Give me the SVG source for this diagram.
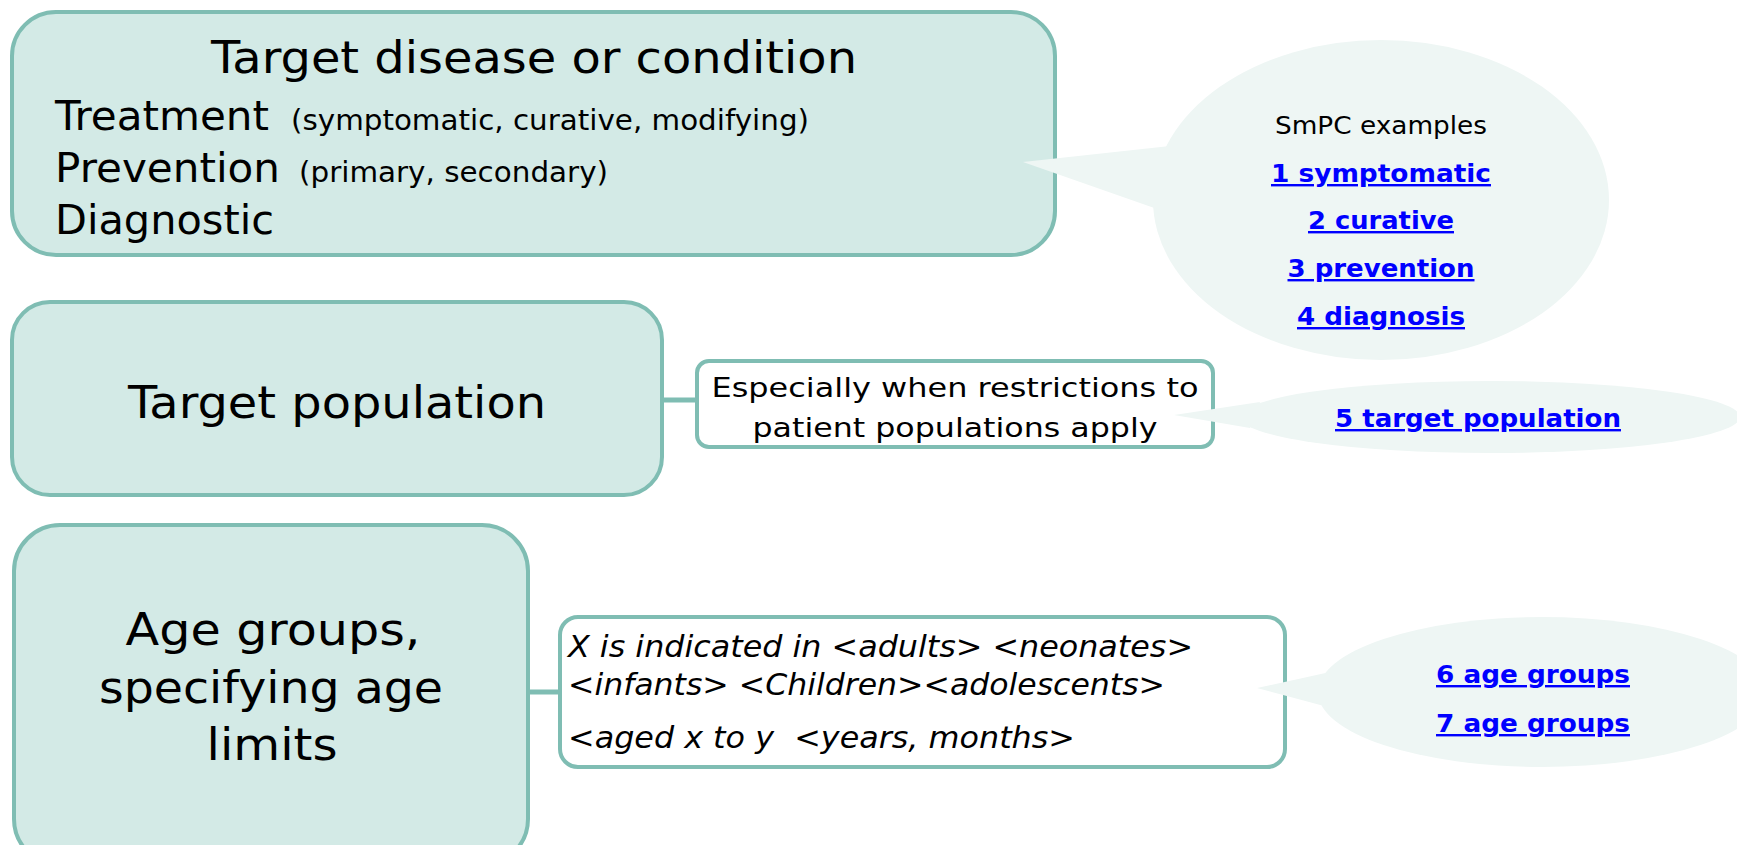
<svg xmlns="http://www.w3.org/2000/svg" width="1737" height="845" viewBox="0 0 1737 845">
<style>
.box{fill:#D3EAE6;stroke:#7FBDB3;stroke-width:4}
.wbox{fill:#FFFFFF;stroke:#7FBDB3;stroke-width:4}
.bub{fill:#EEF6F4;stroke:none}
.conn{stroke:#7FBDB3;stroke-width:5;fill:none}
.t{font-family:"DejaVu Sans","Liberation Sans",sans-serif;fill:#000}
.it{font-family:"DejaVu Sans","Liberation Sans",sans-serif;font-style:italic;fill:#000}
.lk{font-family:"DejaVu Sans","Liberation Sans",sans-serif;font-weight:bold;fill:#0000FF;text-decoration:underline}
</style>
<rect width="1737" height="845" fill="#FFFFFF"/>
<g id="connectors">
<line class="conn" x1="662" y1="400" x2="697" y2="400"/>
<line class="conn" x1="528" y1="692" x2="560" y2="692"/>
</g>
<g id="node-target-disease">
<rect class="box" x="12" y="12" width="1043" height="243" rx="44"/>
<text class="t" x="534" y="73" font-size="45" text-anchor="middle" textLength="646" lengthAdjust="spacingAndGlyphs">Target disease or condition</text>
<text class="t" x="55" y="130" font-size="40" textLength="214" lengthAdjust="spacingAndGlyphs">Treatment</text>
<text class="t" x="291" y="130" font-size="28" textLength="518" lengthAdjust="spacingAndGlyphs">(symptomatic, curative, modifying)</text>
<text class="t" x="55" y="182" font-size="40" textLength="225" lengthAdjust="spacingAndGlyphs">Prevention</text>
<text class="t" x="299" y="182" font-size="28" textLength="309" lengthAdjust="spacingAndGlyphs">(primary, secondary)</text>
<text class="t" x="55" y="234" font-size="40" textLength="219" lengthAdjust="spacingAndGlyphs">Diagnostic</text>
</g>
<g id="node-target-population">
<rect class="box" x="12" y="302" width="650" height="193" rx="38"/>
<text class="t" x="337" y="418" font-size="45" text-anchor="middle" textLength="418" lengthAdjust="spacingAndGlyphs">Target population</text>
</g>
<g id="node-restrictions">
<rect class="wbox" x="697" y="361" width="516" height="86" rx="12"/>
<text class="t" x="955" y="397" font-size="27" text-anchor="middle" textLength="487" lengthAdjust="spacingAndGlyphs">Especially when restrictions to</text>
<text class="t" x="955" y="437" font-size="27" text-anchor="middle" textLength="405" lengthAdjust="spacingAndGlyphs">patient populations apply</text>
</g>
<g id="node-age-groups">
<rect class="box" x="14" y="525" width="514" height="340" rx="46"/>
<text class="t" x="273" y="645" font-size="44" text-anchor="middle" textLength="295" lengthAdjust="spacingAndGlyphs">Age groups,</text>
<text class="t" x="271" y="703" font-size="44" text-anchor="middle" textLength="344" lengthAdjust="spacingAndGlyphs">specifying age</text>
<text class="t" x="272" y="760" font-size="44" text-anchor="middle" textLength="131" lengthAdjust="spacingAndGlyphs">limits</text>
</g>
<g id="node-age-text">
<rect class="wbox" x="560" y="617" width="725" height="150" rx="18"/>
<text class="it" x="568" y="657" font-size="30" textLength="625" lengthAdjust="spacingAndGlyphs">X is indicated in &lt;adults&gt; &lt;neonates&gt;</text>
<text class="it" x="568" y="695" font-size="30" textLength="597" lengthAdjust="spacingAndGlyphs">&lt;infants&gt; &lt;Children&gt;&lt;adolescents&gt;</text>
<text class="it" x="568" y="748" font-size="30" textLength="507" lengthAdjust="spacingAndGlyphs">&lt;aged x to y&#160; &lt;years, months&gt;</text>
</g>
<g id="bubble-smpc">
<ellipse class="bub" cx="1381" cy="200" rx="228" ry="160"/>
<polygon class="bub" points="1023,162 1170,146 1160,210"/>
<text class="t" x="1381" y="134" font-size="24" text-anchor="middle" textLength="212" lengthAdjust="spacingAndGlyphs">SmPC examples</text>
<text class="lk" x="1381" y="182" font-size="24" text-anchor="middle" textLength="220" lengthAdjust="spacingAndGlyphs">1 symptomatic</text>
<text class="lk" x="1381" y="229" font-size="24" text-anchor="middle" textLength="146" lengthAdjust="spacingAndGlyphs">2 curative</text>
<text class="lk" x="1381" y="277" font-size="24" text-anchor="middle" textLength="187" lengthAdjust="spacingAndGlyphs">3 prevention</text>
<text class="lk" x="1381" y="325" font-size="24" text-anchor="middle" textLength="168" lengthAdjust="spacingAndGlyphs">4 diagnosis</text>
</g>
<g id="bubble-population">
<ellipse class="bub" cx="1490" cy="417" rx="250" ry="36"/>
<polygon class="bub" points="1174,415 1260,402 1250,428"/>
<text class="lk" x="1478" y="427" font-size="24" text-anchor="middle" textLength="286" lengthAdjust="spacingAndGlyphs">5 target population</text>
</g>
<g id="bubble-age">
<ellipse class="bub" cx="1542" cy="692" rx="224" ry="75"/>
<polygon class="bub" points="1257,688 1330,672 1324,706"/>
<text class="lk" x="1533" y="683" font-size="24" text-anchor="middle" textLength="194" lengthAdjust="spacingAndGlyphs">6 age groups</text>
<text class="lk" x="1533" y="732" font-size="24" text-anchor="middle" textLength="194" lengthAdjust="spacingAndGlyphs">7 age groups</text>
</g>
</svg>
